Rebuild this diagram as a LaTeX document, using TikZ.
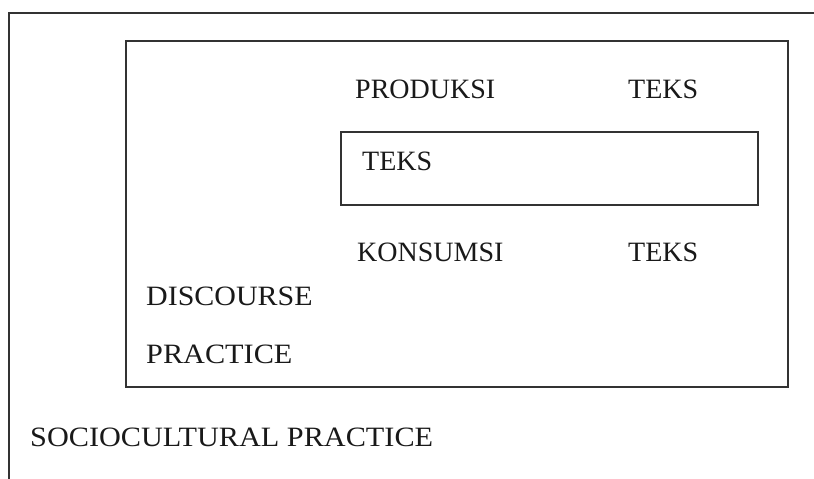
\documentclass[tikz,border=0pt]{standalone}
\usepackage{fontspec}
\setmainfont{Liberation Serif}
\begin{document}
\begin{tikzpicture}[x=1pt,y=-1pt,
  frameline/.style={draw=black!80,line width=1.7pt},
  lbl/.style={anchor=base west,inner sep=0pt,font=\fontsize{28}{30}\selectfont,text=black!90}]
\useasboundingbox (0,0) rectangle (814,479);
% outer sociocultural frame (top and left edges only)
\draw[frameline] (814,13) -- (9,13) -- (9,479);
% discourse practice box
\draw[frameline] (126,41) rectangle (788,387);
% text box
\draw[frameline] (341,132) rectangle (758,205);
\node[lbl] (prod) at (355,98) {PRODUKSI};
\node[lbl] (tekstop) at (628,98) {TEKS};
\node[lbl] (teks) at (362,170) {TEKS};
\node[lbl] (kons) at (357,261) {KONSUMSI};
\node[lbl] (teksbot) at (628,261) {TEKS};
\node[lbl,xscale=1.07] (disc) at (146,305) {DISCOURSE};
\node[lbl,xscale=1.08] (prac) at (146,363) {PRACTICE};
\node[lbl,xscale=1.08] (socio) at (30,446) {SOCIOCULTURAL PRACTICE};
\end{tikzpicture}
\end{document}
